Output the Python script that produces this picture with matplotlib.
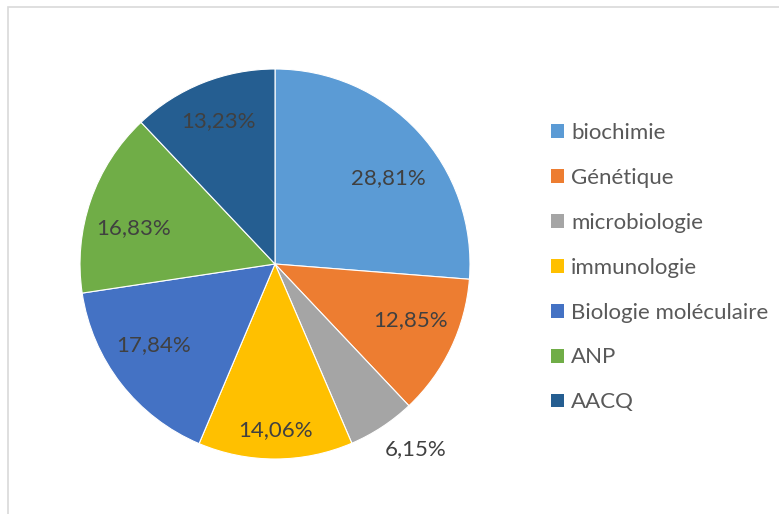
import numpy as np
import matplotlib.pyplot as plt
from matplotlib.patches import Rectangle, Patch

plt.rcParams['font.family'] = ['Lato', 'DejaVu Sans']

# data
categories = ['biochimie', 'Génétique', 'microbiologie', 'immunologie',
              'Biologie moléculaire', 'ANP', 'AACQ']
values = [28.81, 12.85, 6.15, 14.06, 17.84, 16.83, 13.23]
colors = ['#5B9BD5', '#ED7D31', '#A5A5A5', '#FFC000', '#4472C4', '#70AD47', '#255E91']

W, H = 779, 514
fig = plt.figure(figsize=(W / 100, H / 100), dpi=100)

# light chart frame
fig.patches.append(Rectangle((8 / W, -0.01), 1.0, 1 - 7 / H + 0.01, transform=fig.transFigure,
                             fill=False, edgecolor='#D9D9D9', linewidth=1.2))

# pie axes: centre (275, 264), radius ~195 px
ax = fig.add_axes([80 / W, (H - 459) / H, 390 / W, 390 / H])
wedges, _ = ax.pie(values, colors=colors, startangle=90, counterclock=False,
                   wedgeprops=dict(edgecolor='white', linewidth=0.8))
ax.set_xlim(-1, 1)
ax.set_ylim(-1, 1)

# percentage labels: distance from centre and angle shift from wedge middle
dist = [0.73, 0.75, 1.19, 0.85, 0.75, 0.75, 0.79]
shift = [-5.5, 3, 4, 0, -4, 5, 0]
for w, v, d, s in zip(wedges, values, dist, shift):
    ang = np.deg2rad((w.theta1 + w.theta2) / 2 + s)
    ax.text(d * np.cos(ang), d * np.sin(ang), f'{v:.2f}%'.replace('.', ','),
            ha='center', va='center', fontsize=16, color='#404040')

handles = [Patch(facecolor=c, edgecolor='none') for c in colors]
fig.legend(handles, categories, loc='upper left', bbox_to_anchor=(531 / W, 1 - 103 / H),
           frameon=False, fontsize=16, labelcolor='#595959', labelspacing=1.12,
           handlelength=0.59, handleheight=0.59, handletextpad=0.32)

fig.savefig('out.png', dpi=100)
